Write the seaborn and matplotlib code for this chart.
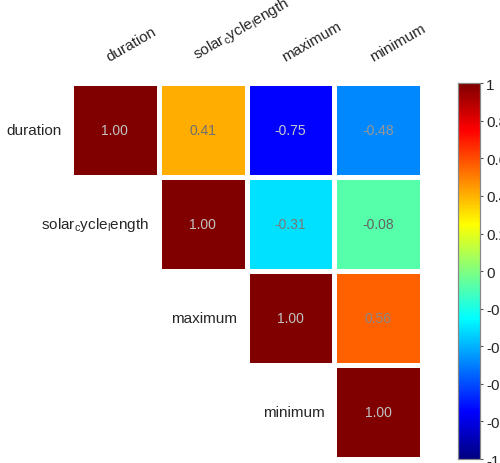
import numpy as np
import pandas as pd
import matplotlib
matplotlib.use('Agg')
import matplotlib.pyplot as plt
from matplotlib.colors import LinearSegmentedColormap
import seaborn as sns

# correlation values
names = ['duration', 'solar_cycle_length', 'maximum', 'minimum']
row_duration = [1.00, 0.41, -0.75, -0.48]
row_solar = [0.41, 1.00, -0.31, -0.08]
row_maximum = [-0.75, -0.31, 1.00, 0.56]
row_minimum = [-0.48, -0.08, 0.56, 1.00]
cbar_ticks = [1, 0.8, 0.6, 0.4, 0.2, 0, -0.2, -0.4, -0.6, -0.8, -1]

corr = pd.DataFrame(
    [row_duration, row_solar, row_maximum, row_minimum],
    index=names, columns=names
)

# how matplotlib shows underscores in the original
shown = [n.replace('_c', '$_c$').replace('_l', '$_l$') for n in names]

# symmetric (matlab style) jet
jet_sym = LinearSegmentedColormap('jet_sym', {
    'red': [(0, 0, 0), (0.375, 0, 0), (0.625, 1, 1), (0.875, 1, 1), (1, 0.5, 0.5)],
    'green': [(0, 0, 0), (0.125, 0, 0), (0.375, 1, 1), (0.625, 1, 1), (0.875, 0, 0), (1, 0, 0)],
    'blue': [(0, 0.5, 0.5), (0.125, 1, 1), (0.375, 1, 1), (0.625, 0, 0), (1, 0, 0)],
}, N=256)

sns.set_style('white')
plt.rcParams['font.family'] = ['Liberation Sans', 'DejaVu Sans']
plt.rcParams['mathtext.default'] = 'regular'

fig = plt.figure(figsize=(5, 4.64), dpi=100)
ax = fig.add_axes([0.142, 0.0086, 0.702, 0.810])
cax = fig.add_axes([0.916, 0.0086, 0.044, 0.810])

mask = np.tril(np.ones(corr.shape, dtype=bool), k=-1)
norm = plt.Normalize(-1, 1)

sns.heatmap(
    corr, mask=mask, cmap=jet_sym, vmin=-1, vmax=1,
    linewidths=3.5, linecolor='white',
    ax=ax, cbar_ax=cax, xticklabels=False, yticklabels=False
)

# value labels, grey that gets darker on lighter cells
n = len(names)
for i in range(n):
    for j in range(i, n):
        v = corr.iloc[i, j]
        r, g, b, _ = jet_sym(norm(v))
        lum = 0.299 * r + 0.587 * g + 0.114 * b
        grey = np.clip(0.85 - 0.6 * lum, 0.25, 0.85)
        ax.text(
            j + 0.5, i + 0.5, f'{v:.2f}', ha='center', va='center',
            fontsize=10, color=(grey, grey, grey)
        )

# row labels beside the diagonal, column labels on top
for i, lab in enumerate(shown):
    ax.text(i - 0.11, i + 0.5, lab, ha='right', va='center', fontsize=11)
    ax.text(
        i + 0.46, -0.21, lab, ha='left', va='bottom', fontsize=11,
        rotation=30, rotation_mode='anchor', clip_on=False
    )

cax.set_yticks(cbar_ticks)
cax.set_yticklabels([f'{t:g}' for t in cbar_ticks])
cax.tick_params(labelsize=11, length=2.5, width=0.8, pad=2, color='#555555')
for sp in cax.spines.values():
    sp.set_visible(True)
    sp.set_color('#888888')
    sp.set_linewidth(0.8)

for sp in ax.spines.values():
    sp.set_visible(False)

fig.savefig('out.png', dpi=100)
